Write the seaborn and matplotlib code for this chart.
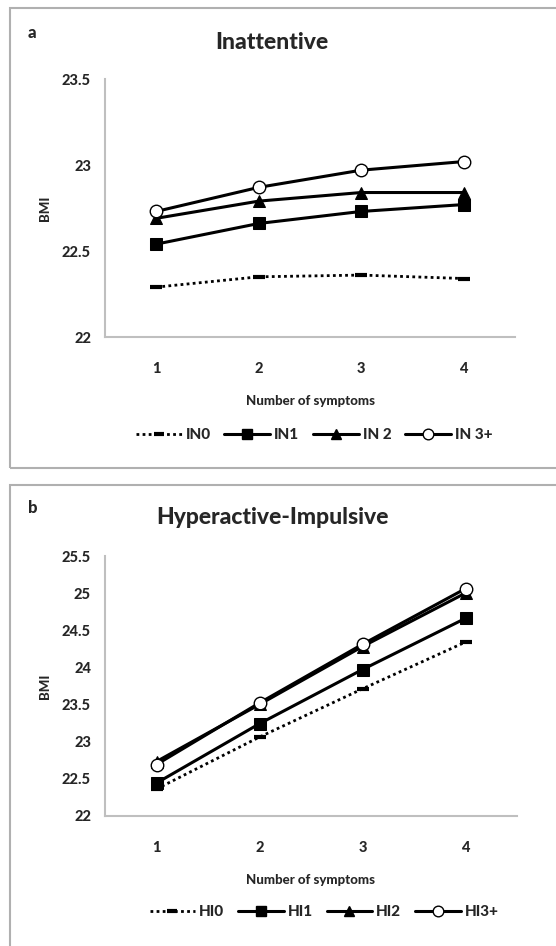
import pandas as pd
import matplotlib.pyplot as plt
import seaborn as sns
from matplotlib.lines import Line2D
from matplotlib.patches import Rectangle

# values (BMI by number of symptoms)
symptoms = [1, 2, 3, 4]

in_labels = ['IN0', 'IN1', 'IN 2', 'IN 3+']
in0 = [22.29, 22.35, 22.36, 22.34]
in1 = [22.54, 22.66, 22.73, 22.77]
in2 = [22.69, 22.79, 22.84, 22.84]
in3 = [22.73, 22.87, 22.97, 23.02]

hi_labels = ['HI0', 'HI1', 'HI2', 'HI3+']
hi0 = [22.36, 23.06, 23.71, 24.34]
hi1 = [22.44, 23.24, 23.97, 24.66]
hi2 = [22.73, 23.50, 24.28, 25.00]
hi3 = [22.69, 23.52, 24.31, 25.06]

sns.set_style('white')
plt.rcParams['font.family'] = ['Lato', 'DejaVu Sans']

W = 'black'  # heavy font weight, the original is very bold

# line style for each of the 4 groups (0, 1, 2, 3+)
styles = [
    dict(linestyle=(0, (1, 1.2)), lw=2.0, marker='_', ms=9, mew=3, mfc='black'),
    dict(linestyle='-', lw=2.2, marker='s', ms=9, mfc='black'),
    dict(linestyle='-', lw=2.2, marker='^', ms=8, mfc='black'),
    dict(linestyle='-', lw=2.2, marker='o', ms=9, mfc='white', mew=1.0),
]

fig = plt.figure(figsize=(5.56, 9.46), dpi=100)

# panel frames
fig.patches.append(Rectangle((10 / 556, 1 - 468 / 946), 600 / 556, 460 / 946,
                             transform=fig.transFigure, fill=False,
                             edgecolor='#b0b0b0', lw=1.5))
fig.patches.append(Rectangle((10 / 556, -0.1), 600 / 556, 0.1 + 1 - 485 / 946,
                             transform=fig.transFigure, fill=False,
                             edgecolor='#b0b0b0', lw=1.5))


def panel(rect, series, labels, title, letter, ylim, yticks, yticklabels,
          title_y, letter_y, legend_y, legend_x):
    ax = fig.add_axes(rect)
    for vals, lab, st in zip(series, labels, styles):
        df = pd.DataFrame({'Symptoms': symptoms, 'BMI': vals})
        sns.lineplot(data=df, x='Symptoms', y='BMI', ax=ax, color='black',
                     markeredgecolor='black', label=lab, **st)
    ax.set_xlim(0.5, 4.5)
    ax.set_ylim(*ylim)
    ax.set_xticks(symptoms)
    ax.set_xticklabels([str(s) for s in symptoms], fontsize=10.5, fontweight=W)
    ax.set_yticks(yticks)
    ax.set_yticklabels(yticklabels, fontsize=10.5, fontweight=W)
    ax.tick_params(axis='x', pad=18, length=0)
    ax.tick_params(axis='y', pad=10, length=0)
    for s in ['top', 'right']:
        ax.spines[s].set_visible(False)
    for s in ['left', 'bottom']:
        ax.spines[s].set_color('#bfbfbf')
        ax.spines[s].set_linewidth(1.5)
    ax.set_xlabel('Number of symptoms', fontsize=9.5, fontweight=W, labelpad=14)
    ax.set_ylabel('BMI', fontsize=9.5, fontweight=W, labelpad=8)
    ax.get_legend().remove()
    handles = [Line2D([], [], color='black', markeredgecolor='black', **st) for st in styles]
    fig.legend(handles, labels, loc='center',
               bbox_to_anchor=(legend_x, 1 - legend_y / 946),
               ncol=4, frameon=False, handlelength=3.0, markerscale=0.85,
               columnspacing=0.9, handletextpad=0.25,
               prop={'size': 11, 'weight': W})
    fig.text(272 / 556, 1 - title_y / 946, title, ha='center', va='center',
             fontsize=16.5, fontweight=W)
    fig.text(28 / 556, 1 - letter_y / 946, letter, ha='left', va='center',
             fontsize=12, fontweight=W)
    return ax


panel([105 / 556, 1 - 337 / 946, 410 / 556, 258 / 946],
      [in0, in1, in2, in3], in_labels, 'Inattentive', 'a',
      (22, 23.5), [22, 22.5, 23, 23.5], ['22', '22.5', '23', '23.5'],
      42, 33, 435, 314 / 556)

panel([105 / 556, 1 - 815.7 / 946, 412 / 556, 259.7 / 946],
      [hi0, hi1, hi2, hi3], hi_labels, 'Hyperactive-Impulsive', 'b',
      (22, 25.5), [22, 22.5, 23, 23.5, 24, 24.5, 25, 25.5],
      ['22', '22.5', '23', '23.5', '24', '24.5', '25', '25.5'],
      518, 508, 912, 324 / 556)

plt.savefig('out.png', dpi=100)
